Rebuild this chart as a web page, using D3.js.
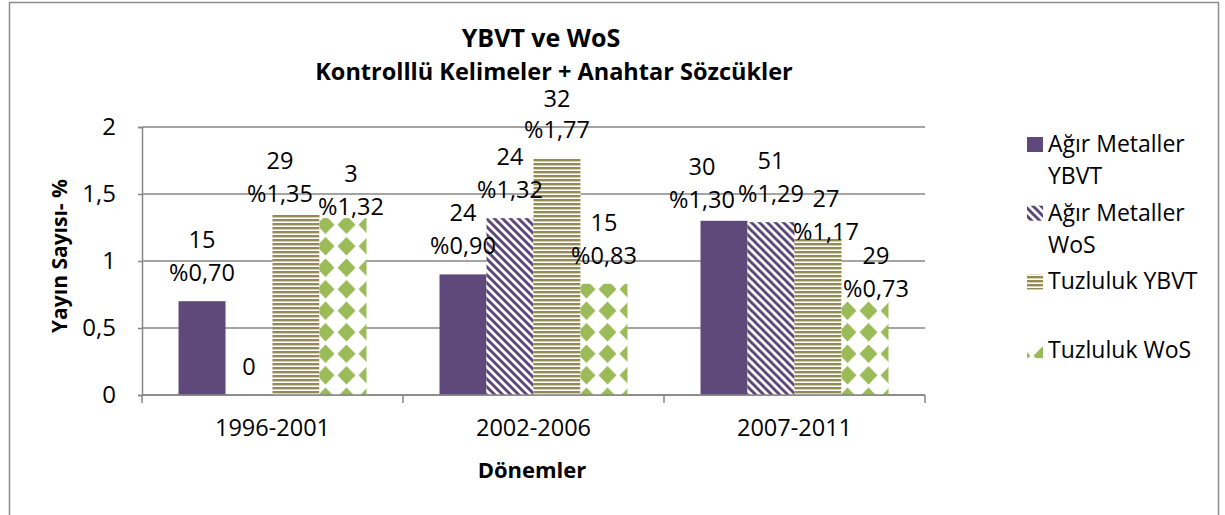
<!DOCTYPE html>
<html>
<head>
<meta charset="utf-8">
<script src="https://cdn.jsdelivr.net/npm/d3@7"></script>
<style>
  body { margin: 0; background: #fff; }
  text { font-family: "Open Sans", sans-serif; fill: #000; }
</style>
</head>
<body>
<div id="chart"></div>
<script>
// chart data
var periods = ["1996-2001", "2002-2006", "2007-2011"];
var seriesNames = ["Ağır Metaller YBVT", "Ağır Metaller WoS", "Tuzluluk YBVT", "Tuzluluk WoS"];
var legendLines = [["Ağır Metaller", "YBVT"], ["Ağır Metaller", "WoS"], ["Tuzluluk YBVT"], ["Tuzluluk WoS"]];
// percentages per series, one value per period
var agirYbvt = [0.70, 0.90, 1.30];
var agirWos = [0.00, 1.32, 1.29];
var tuzYbvt = [1.35, 1.77, 1.17];
var tuzWos = [1.32, 0.83, 0.73];
// publication counts shown above the percentages
var agirYbvtCount = [15, 24, 30];
var agirWosCount = [0, 24, 51];
var tuzYbvtCount = [29, 32, 27];
var tuzWosCount = [3, 15, 29];
var yTicks = [0, 0.5, 1, 1.5, 2];

var values = [agirYbvt, agirWos, tuzYbvt, tuzWos];
var counts = [agirYbvtCount, agirWosCount, tuzYbvtCount, tuzWosCount];

// hand-moved labels (dx, dy, extra dy of count line) like in the original sheet
var labelNudge = [
  [[0, 0, 0], [0, 0, 0], [-22, 7, 0]],
  [[0, 0, 0], [0, 0, 0], [0, 0, 0]],
  [[-16, 8, 0], [0, 0, 2], [8, 22, 0]],
  [[8, 17, 0], [0, 0, 0], [11, 20, 0]]
];

var width = 1225, height = 515;
var margin = { top: 127, left: 142 };
var plotW = 783, plotH = 268;

var tr = d3.formatLocale({ decimal: ",", thousands: ".", grouping: [3], currency: ["", ""] });
var fmtTick = tr.format("~g");
var fmtPct = tr.format(".2f");

var svg = d3.select("#chart").append("svg")
  .attr("width", width)
  .attr("height", height);

// outer chart border
svg.append("rect")
  .attr("x", 9.5).attr("y", 2.5)
  .attr("width", 1209).attr("height", 530)
  .attr("fill", "none")
  .attr("stroke", "#8c8c8c")
  .attr("stroke-width", 1.5);

// fill patterns
var defs = svg.append("defs");

var diag = defs.append("pattern")
  .attr("id", "diag").attr("patternUnits", "userSpaceOnUse")
  .attr("width", 8).attr("height", 8);
diag.append("rect").attr("width", 8).attr("height", 8).attr("fill", "#fff");
diag.append("path")
  .attr("d", "M-1,-1L9,9M-1,7L1,9M7,-1L9,1")
  .attr("stroke", "#5f497a").attr("stroke-width", 3);

var hstripe = defs.append("pattern")
  .attr("id", "hstripe").attr("patternUnits", "userSpaceOnUse")
  .attr("width", 4).attr("height", 4);
hstripe.append("rect").attr("width", 4).attr("height", 4).attr("fill", "#fff");
hstripe.append("rect").attr("width", 4).attr("height", 2).attr("fill", "#948a54");
hstripe.append("rect").attr("y", 2).attr("width", 4).attr("height", 1).attr("fill", "#d6d1b8");

var diamond = defs.append("pattern")
  .attr("id", "diamond").attr("patternUnits", "userSpaceOnUse")
  .attr("x", 5).attr("y", 1)
  .attr("width", 21).attr("height", 21.5);
diamond.append("rect").attr("width", 21).attr("height", 21.5).attr("fill", "#fff");
diamond.append("path")
  .attr("d", "M10.5,1.5L19.5,10.75L10.5,20L1.5,10.75Z")
  .attr("fill", "#9bbb59");

var fills = ["#5f497a", "url(#diag)", "url(#hstripe)", "url(#diamond)"];

var g = svg.append("g")
  .attr("transform", "translate(" + margin.left + "," + margin.top + ")");

// scales
var x0 = d3.scaleBand().domain(periods).range([0, plotW]).padding(0);
var x1 = d3.scaleBand().domain(d3.range(seriesNames.length))
  .range([0, x0.bandwidth()])
  .paddingInner(0).paddingOuter(0.777);
var y = d3.scaleLinear().domain([0, 2]).range([plotH, 0]);

// gridlines
g.append("g")
  .selectAll("line")
  .data(yTicks)
  .enter()
  .append("line")
  .attr("x1", 0).attr("x2", plotW)
  .attr("y1", (d) => y(d)).attr("y2", (d) => y(d))
  .attr("stroke", "#868686").attr("stroke-width", 1.5);

// y axis
var yAxis = g.append("g")
  .call(d3.axisLeft(y).tickValues(yTicks).tickFormat(fmtTick).tickSize(4).tickPadding(22));
yAxis.select(".domain").attr("stroke", "#868686").attr("stroke-width", 1.5);
yAxis.selectAll(".tick line").attr("stroke", "#868686").attr("stroke-width", 1.5);
yAxis.selectAll("text").attr("font-size", "24px").attr("font-family", "Open Sans, sans-serif");

// bars
var groups = g.selectAll(".period")
  .data(periods)
  .enter()
  .append("g")
  .attr("class", "period")
  .attr("transform", (d) => "translate(" + x0(d) + ",0)");

groups.selectAll("rect")
  .data((p, pi) => values.map((s, si) => ({ si: si, pi: pi, v: s[pi] })))
  .enter()
  .append("rect")
  .filter((d) => d.v > 0)
  .attr("x", (d) => x1(d.si))
  .attr("width", x1.bandwidth())
  .attr("y", (d) => y(d.v))
  .attr("height", (d) => plotH - y(d.v))
  .attr("fill", (d) => fills[d.si]);

// data labels: count on top, percentage below
groups.each(function (p, pi) {
  var grp = d3.select(this);
  values.forEach(function (s, si) {
    var v = s[pi];
    var nudge = labelNudge[si][pi];
    var cx = x1(si) + x1.bandwidth() / 2 + nudge[0];
    var base = y(v) - 20 + nudge[1];
    if (v > 0) {
      grp.append("text")
        .attr("x", cx).attr("y", base)
        .attr("text-anchor", "middle")
        .attr("font-size", "23.5px")
        .text("%" + fmtPct(v));
      base = base - 33 + nudge[2];
    }
    grp.append("text")
      .attr("x", cx).attr("y", base)
      .attr("text-anchor", "middle")
      .attr("font-size", "23.5px")
      .text(counts[si][pi]);
  });
});

// x axis line with boundary ticks
g.append("line")
  .attr("x1", 0).attr("x2", plotW)
  .attr("y1", plotH).attr("y2", plotH)
  .attr("stroke", "#868686").attr("stroke-width", 1.5);
g.selectAll(".xtick")
  .data(periods.map((p) => x0(p)).concat([plotW]))
  .enter()
  .append("line")
  .attr("x1", (d) => d).attr("x2", (d) => d)
  .attr("y1", plotH).attr("y2", plotH + 8)
  .attr("stroke", "#868686").attr("stroke-width", 1.5);
g.selectAll(".xlabel")
  .data(periods)
  .enter()
  .append("text")
  .attr("x", (d) => x0(d) + x0.bandwidth() / 2)
  .attr("y", plotH + 41)
  .attr("text-anchor", "middle")
  .attr("font-size", "23.5px")
  .text((d) => d);

// titles
svg.append("text")
  .attr("x", 541).attr("y", 47)
  .attr("text-anchor", "middle")
  .attr("font-size", "25px").attr("font-weight", "bold")
  .text("YBVT ve WoS");
svg.append("text")
  .attr("x", 554).attr("y", 80)
  .attr("text-anchor", "middle")
  .attr("font-size", "23.5px").attr("font-weight", "bold")
  .text("Kontrolllü Kelimeler + Anahtar Sözcükler");

svg.append("text")
  .attr("transform", "translate(67,256) rotate(-90)")
  .attr("text-anchor", "middle")
  .attr("font-size", "21px").attr("font-weight", "bold")
  .text("Yayın Sayısı- %");

svg.append("text")
  .attr("x", 532).attr("y", 478)
  .attr("text-anchor", "middle")
  .attr("font-size", "22px").attr("font-weight", "bold")
  .text("Dönemler");

// legend
var legend = svg.append("g").attr("transform", "translate(1027,0)");
seriesNames.forEach(function (name, i) {
  var base = 152 + i * 68.7;
  legend.append("rect")
    .attr("x", 0).attr("y", base - 15)
    .attr("width", 16).attr("height", 15)
    .attr("fill", fills[i]);
  legendLines[i].forEach(function (t, li) {
    legend.append("text")
      .attr("x", 21)
      .attr("y", base + li * 32)
      .attr("font-size", "23px")
      .text(t);
  });
});
</script>
</body>
</html>
